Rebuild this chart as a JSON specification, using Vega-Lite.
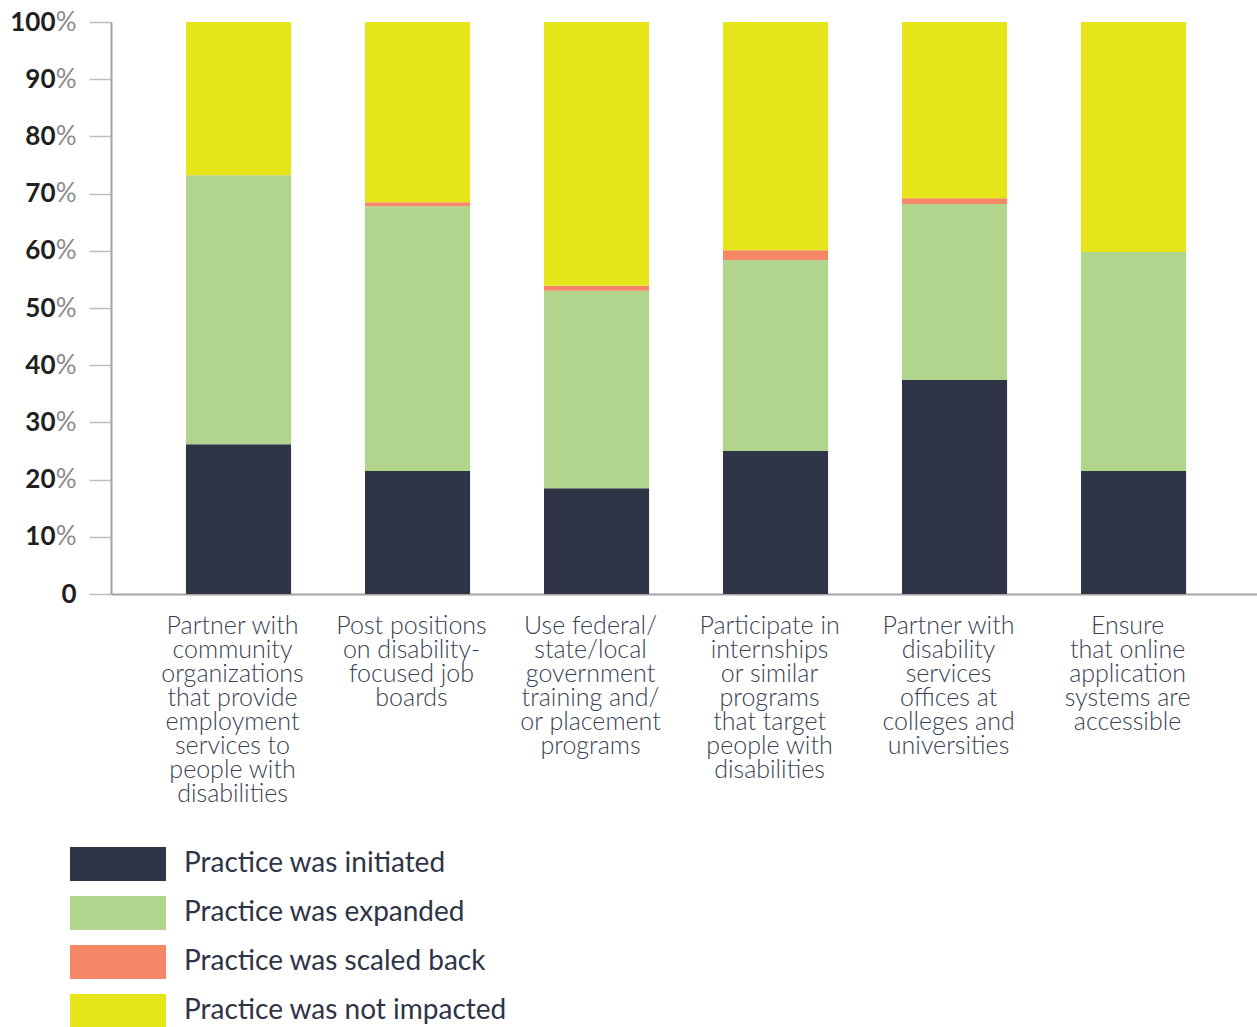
{
  "$schema": "https://vega.github.io/schema/vega-lite/v6.json",
  "autosize": {"type": "none"},
  "padding": {"left": 111, "top": 22, "right": 0, "bottom": 433},
  "width": 1146,
  "height": 572,
  "background": "white",
  "config": {"view": {"stroke": null}, "font": "Lato"},
  "data": {"values": [
    {"practice": "Partner with|community|organizations|that provide|employment|services to|people with|disabilities", "impact": "Practice was initiated", "o": 1, "pct": 26.2},
    {"practice": "Partner with|community|organizations|that provide|employment|services to|people with|disabilities", "impact": "Practice was expanded", "o": 2, "pct": 47.0},
    {"practice": "Partner with|community|organizations|that provide|employment|services to|people with|disabilities", "impact": "Practice was scaled back", "o": 3, "pct": 0},
    {"practice": "Partner with|community|organizations|that provide|employment|services to|people with|disabilities", "impact": "Practice was not impacted", "o": 4, "pct": 26.8},
    {"practice": "Post positions|on disability-|focused job|boards", "impact": "Practice was initiated", "o": 1, "pct": 21.5},
    {"practice": "Post positions|on disability-|focused job|boards", "impact": "Practice was expanded", "o": 2, "pct": 46.3},
    {"practice": "Post positions|on disability-|focused job|boards", "impact": "Practice was scaled back", "o": 3, "pct": 0.7},
    {"practice": "Post positions|on disability-|focused job|boards", "impact": "Practice was not impacted", "o": 4, "pct": 31.5},
    {"practice": "Use federal/|state/local|government|training and/|or placement|programs", "impact": "Practice was initiated", "o": 1, "pct": 18.5},
    {"practice": "Use federal/|state/local|government|training and/|or placement|programs", "impact": "Practice was expanded", "o": 2, "pct": 34.5},
    {"practice": "Use federal/|state/local|government|training and/|or placement|programs", "impact": "Practice was scaled back", "o": 3, "pct": 0.9},
    {"practice": "Use federal/|state/local|government|training and/|or placement|programs", "impact": "Practice was not impacted", "o": 4, "pct": 46.1},
    {"practice": "Participate in|internships|or similar|programs|that target|people with|disabilities", "impact": "Practice was initiated", "o": 1, "pct": 25.0},
    {"practice": "Participate in|internships|or similar|programs|that target|people with|disabilities", "impact": "Practice was expanded", "o": 2, "pct": 33.4},
    {"practice": "Participate in|internships|or similar|programs|that target|people with|disabilities", "impact": "Practice was scaled back", "o": 3, "pct": 1.7},
    {"practice": "Participate in|internships|or similar|programs|that target|people with|disabilities", "impact": "Practice was not impacted", "o": 4, "pct": 39.9},
    {"practice": "Partner with|disability|services|offices at|colleges and|universities", "impact": "Practice was initiated", "o": 1, "pct": 37.4},
    {"practice": "Partner with|disability|services|offices at|colleges and|universities", "impact": "Practice was expanded", "o": 2, "pct": 30.8},
    {"practice": "Partner with|disability|services|offices at|colleges and|universities", "impact": "Practice was scaled back", "o": 3, "pct": 1.0},
    {"practice": "Partner with|disability|services|offices at|colleges and|universities", "impact": "Practice was not impacted", "o": 4, "pct": 30.8},
    {"practice": "Ensure|that online|application|systems are|accessible", "impact": "Practice was initiated", "o": 1, "pct": 21.5},
    {"practice": "Ensure|that online|application|systems are|accessible", "impact": "Practice was expanded", "o": 2, "pct": 38.3},
    {"practice": "Ensure|that online|application|systems are|accessible", "impact": "Practice was scaled back", "o": 3, "pct": 0},
    {"practice": "Ensure|that online|application|systems are|accessible", "impact": "Practice was not impacted", "o": 4, "pct": 40.2}
  ]},
  "encoding": {
    "x": {
      "field": "practice", "type": "nominal", "sort": null,
      "scale": {"paddingInner": 0.413, "paddingOuter": 0.4075, "align": 0.514},
      "axis": {
        "title": null, "labelAngle": 0, "ticks": false,
        "domainColor": "#a3a3a6", "domainWidth": 2,
        "labelExpr": "split(datum.label, '|')",
        "labelFont": "Lato", "labelFontWeight": 300, "labelFontSize": 25,
        "labelLineHeight": 24, "labelColor": "#3b3f54",
        "labelPadding": 19, "labelBaseline": "top", "labelAlign": "center", "labelOffset": -6
      }
    },
    "y": {
      "field": "pct", "type": "quantitative", "stack": "normalize",
      "scale": {"domain": [0, 1], "nice": false}
    },
    "order": {"field": "o", "type": "quantitative"}
  },
  "layer": [
    {
      "mark": {"type": "bar"},
      "encoding": {
        "y": {
          "field": "pct", "type": "quantitative", "stack": "normalize",
          "axis": {
            "orient": "left", "title": null, "grid": false,
            "values": [0, 0.1, 0.2, 0.3, 0.4, 0.5, 0.6, 0.7, 0.8, 0.9, 1],
            "domainColor": "#a3a3a6", "domainWidth": 2,
            "tickColor": "#bdbdc0", "tickSize": 22, "tickWidth": 1.5,
            "labelExpr": "datum.value == 0 ? '' : format(datum.value * 100, 'd')",
            "labelFont": "Lato", "labelFontWeight": "bold", "labelFontSize": 26,
            "labelColor": "#231f20", "labelPadding": 34, "labelBaseline": "middle"
          }
        },
        "color": {
          "field": "impact", "type": "nominal",
          "scale": {
            "domain": ["Practice was initiated", "Practice was expanded", "Practice was scaled back", "Practice was not impacted"],
            "range": ["#2f3447", "#b2d58d", "#f58767", "#e5e519"]
          },
          "legend": {
            "title": null, "orient": "none", "legendX": -17, "legendY": 818,
            "direction": "vertical", "padding": 0,
            "symbolType": "M-2,-0.708H2V0.708H-2Z", "symbolSize": 2304,
            "symbolStrokeWidth": 0, "symbolOpacity": 1,
            "labelFont": "Lato", "labelFontSize": 28, "labelColor": "#2f3447",
            "labelOffset": 42, "rowPadding": 8, "labelLimit": 600
          }
        }
      }
    },
    {
      "mark": {"type": "bar", "opacity": 0},
      "encoding": {
        "y": {
          "field": "pct", "type": "quantitative", "stack": "normalize",
          "axis": {
            "orient": "left", "title": null, "grid": false, "domain": false, "ticks": false,
            "values": [0, 0.1, 0.2, 0.3, 0.4, 0.5, 0.6, 0.7, 0.8, 0.9, 1],
            "labelExpr": "datum.value == 0 ? '0' : '%'",
            "labelFont": "Lato", "labelFontSize": 26,
            "labelFontWeight": {"condition": {"test": "datum.value == 0", "value": "bold"}, "value": "normal"},
            "labelColor": {"condition": {"test": "datum.value == 0", "value": "#231f20"}, "value": "#8a8a8d"},
            "labelPadding": 35, "labelBaseline": "middle"
          }
        }
      }
    }
  ],
  "resolve": {"axis": {"y": "independent"}}
}
